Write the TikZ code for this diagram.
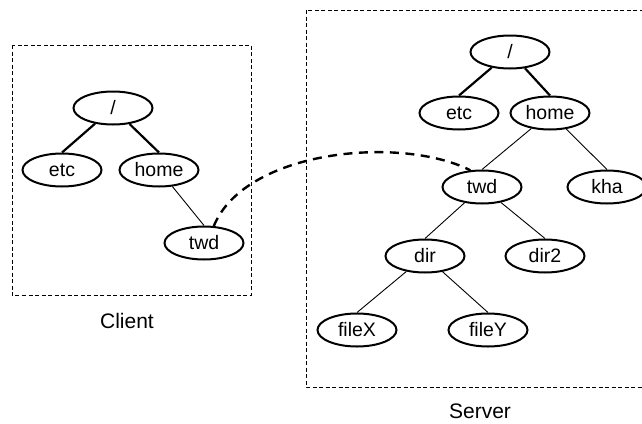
\documentclass[tikz,border=0pt]{standalone}
\usepackage{fontspec}
\setmainfont{Liberation Sans}
\usetikzlibrary{shapes.geometric}
\tikzset{
  fsnode/.style={ellipse, draw, line width=2pt, minimum width=79pt, minimum height=33pt, inner sep=0pt, font=\fontsize{19.5}{21}\selectfont},
  thickedge/.style={line width=2.2pt},
  thinedge/.style={line width=0.9pt},
  region/.style={draw, line width=0.9pt, dash pattern=on 4pt off 2.5pt},
  mountlink/.style={line width=2.4pt, dash pattern=on 9pt off 6.5pt},
  caption/.style={anchor=base, font=\fontsize{21}{23}\selectfont}
}
\begin{document}
\begin{tikzpicture}[x=1pt, y=-1pt]
\useasboundingbox (0,0) rectangle (642,423);
\clip (0,0) rectangle (642,423);
% regions
\draw[region] (12,45) rectangle (251,295);
\draw[region] (306,10) rectangle (660,387);
\node[caption] (clientlbl) at (127,328) {Client};
\node[caption] (serverlbl) at (480,418) {Server};
% client tree
\node[fsnode] (croot) at (113,108) {/};
\node[fsnode] (cetc) at (62,170) {etc};
\node[fsnode] (chome) at (159,170) {home};
\node[fsnode] (ctwd) at (204,243) {twd};
\draw[thickedge] (croot) -- (cetc.north);
\draw[thickedge] (croot) -- (chome.north);
\draw[thinedge] (chome) -- (ctwd.north);
% server tree
\node[fsnode] (sroot) at (510,52) {/};
\node[fsnode] (setc) at (459,113) {etc};
\node[fsnode] (shome) at (550,113) {home};
\node[fsnode] (stwd) at (482,187) {twd};
\node[fsnode] (skha) at (607,187) {kha};
\node[fsnode] (sdir) at (425,256) {dir};
\node[fsnode] (sdir2) at (545,256) {dir2};
\node[fsnode] (sfilex) at (357,330) {fileX};
\node[fsnode] (sfiley) at (488,330) {fileY};
\draw[thickedge] (sroot) -- (setc.north);
\draw[thickedge] (sroot) -- (shome.north);
\draw[thinedge] (shome) -- (stwd.north);
\draw[thinedge] (shome) -- (skha.north);
\draw[thinedge] (stwd) -- (sdir.north);
\draw[thinedge] (stwd) -- (sdir2.north);
\draw[thinedge] (sdir) -- (sfilex.north);
\draw[thinedge] (sdir) -- (sfiley.north);
% mount link
\draw[mountlink] (ctwd.60) .. controls (245,150) and (400,135) .. (stwd.125);
\end{tikzpicture}
\end{document}
